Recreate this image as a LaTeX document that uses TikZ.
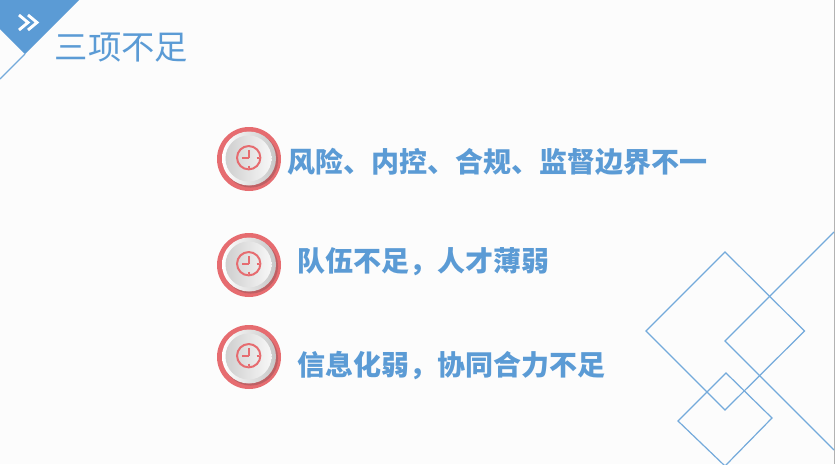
\documentclass[tikz,border=0pt]{standalone}
\usepackage{fontspec}
\setmainfont{Noto Sans CJK SC}
\usetikzlibrary{positioning,shadings}
\definecolor{titleblue}{RGB}{91,155,213}
\definecolor{ringred}{RGB}{230,108,112}
\definecolor{ringdark}{RGB}{190,96,100}
\tikzset{
  pagebg/.style = {fill=black!1, draw=none},
  cornerflag/.style = {fill=titleblue, draw=none},
  thinline/.style = {draw=titleblue!85, line width=0.9pt},
  title text/.style = {text=titleblue, font=\fontsize{25}{28}\selectfont, inner sep=0pt, anchor=west},
  item text/.style = {text=titleblue, font=\fontsize{21}{25}\selectfont\bfseries, inner sep=0pt, anchor=west},
  clock ring/.style = {circle, fill=ringred, minimum size=48pt, inner sep=0pt},
  clock drop/.style = {circle, fill=ringdark, minimum size=41pt, inner sep=0pt, xshift=1.3pt, yshift=-1.3pt},
  clock disc/.style = {circle, minimum size=40.5pt, inner sep=0pt, shade, shading=axis, shading angle=135, left color=white, right color=black!22},
  clock face/.style = {circle, minimum size=34.5pt, inner sep=0pt, shade, shading=axis, shading angle=135, left color=black!19, right color=black!3},
  clock dial/.style = {circle, draw=ringred, line width=1.5pt, minimum size=17.5pt, inner sep=0pt}
}
% one round clock badge
\newcommand{\clockbadge}[3]{
  \node at (#1,#2) [clock ring] (#3ring) {};
  \node at (#1,#2-0.5) [clock drop] (#3drop) {};
  \node at (#1,#2-0.5) [clock disc] (#3disc) {};
  \node at (#1-0.5,#2-0.5) [clock face] (#3face) {};
  \node at (#1-0.3,#2-1.3) [clock dial] (#3dial) {};
  \draw[ringred, line width=1.3pt] (#3dial.center) -- ++(0,5.5pt) (#3dial.center) -- ++(-5pt,0);
  \foreach \a in {0,-90}
    \draw[ringred, line width=1.2pt] (#3dial.center) ++(\a:6pt) -- ++(\a:1.5pt);
}
\begin{document}
\begin{tikzpicture}[x=0.75pt, y=-0.75pt]
  \useasboundingbox (0,0) rectangle (835,464);
  \fill[pagebg] (0,0) rectangle (835,464);
  \draw[black!30, line width=0.8pt] (834.5,0) -- (834.5,464);
  % corner flag
  \fill[cornerflag] (0,0) -- (79,0) -- (25,54) -- (0,29) -- cycle;
  \coordinate (flagtip) at (25,54);
  \coordinate (flagend) at (0,79);
  \draw[thinline] (flagtip) -- (flagend);
  \foreach \dx in {0,9}
    \draw[white, line width=2.2pt] (19+\dx,15) -- (28+\dx,22.5) -- (19+\dx,30);
  \node at (54.5,48) [title text] (title) {三项不足};
  % three rows
  \clockbadge{249}{159}{risk}
  \clockbadge{249}{265}{team}
  \clockbadge{249}{357}{info}
  \node at (287.5,162) [item text] (risktext) {风险、内控、合规、监督边界不一};
  \node at (297.5,262) [item text] (teamtext) {队伍不足，人才薄弱};
  \node at (297.5,366) [item text] (infotext) {信息化弱，协同合力不足};
  % lower right outlines
  \draw[thinline] (725,252) -- (804.5,331) -- (725,410) -- (646,331) -- cycle;
  \draw[thinline] (834,232) -- (725,341) -- (834,450);
  \draw[thinline] (725,466) -- (678,421) -- (726,373) -- (772,418) -- (725,466);
\end{tikzpicture}
\end{document}
